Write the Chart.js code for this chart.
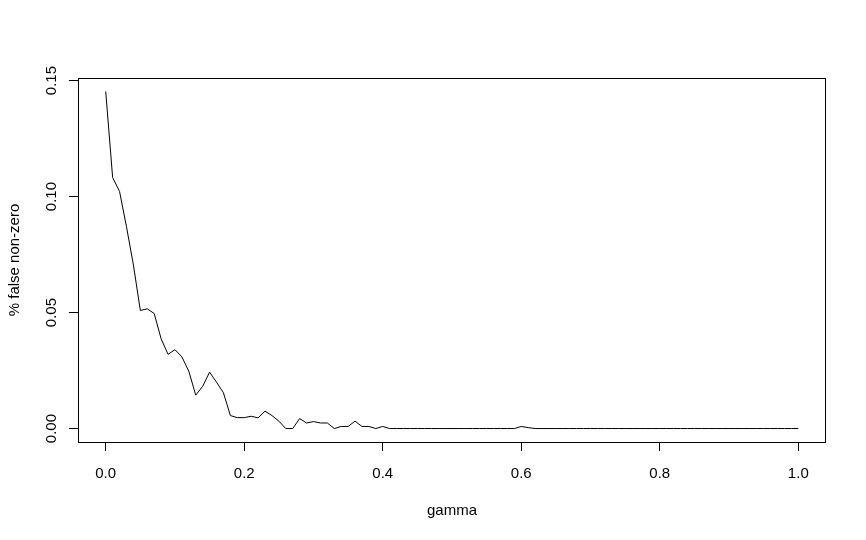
<!DOCTYPE html>
<html>
<head>
<meta charset="utf-8">
<title>% false non-zero vs gamma</title>
<script src="https://cdn.jsdelivr.net/npm/chart.js@4.4.1/dist/chart.umd.min.js"></script>
<style>
  html, body { margin: 0; padding: 0; background: #fff; }
  #grafico { display: block; }
</style>
</head>
<body>
<canvas id="grafico" width="866" height="540"></canvas>
<script>
// ======= Dados =======
const gamma = [
  0.00, 0.01, 0.02, 0.03, 0.04, 0.05, 0.06, 0.07, 0.08, 0.09,
  0.10, 0.11, 0.12, 0.13, 0.14, 0.15, 0.16, 0.17, 0.18, 0.19,
  0.20, 0.21, 0.22, 0.23, 0.24, 0.25, 0.26, 0.27, 0.28, 0.29,
  0.30, 0.31, 0.32, 0.33, 0.34, 0.35, 0.36, 0.37, 0.38, 0.39,
  0.40, 0.41, 0.42, 0.43, 0.44, 0.45, 0.46, 0.47, 0.48, 0.49,
  0.50, 0.51, 0.52, 0.53, 0.54, 0.55, 0.56, 0.57, 0.58, 0.59,
  0.60, 0.61, 0.62, 0.63, 0.64, 0.65, 0.66, 0.67, 0.68, 0.69,
  0.70, 0.71, 0.72, 0.73, 0.74, 0.75, 0.76, 0.77, 0.78, 0.79,
  0.80, 0.81, 0.82, 0.83, 0.84, 0.85, 0.86, 0.87, 0.88, 0.89,
  0.90, 0.91, 0.92, 0.93, 0.94, 0.95, 0.96, 0.97, 0.98, 0.99,
  1.00
];
const falsosNaoZero = [
  0.1453, 0.1082, 0.1022, 0.0870, 0.0705, 0.0509, 0.0516, 0.0496, 0.0387, 0.0320,
  0.0340, 0.0309, 0.0247, 0.0144, 0.0182, 0.0243, 0.0200, 0.0154, 0.0056, 0.0047,
  0.0047, 0.0053, 0.0046, 0.0075, 0.0056, 0.0032, 0.0000, 0.0000, 0.0043, 0.0024,
  0.0030, 0.0024, 0.0024, 0.0000, 0.0009, 0.0009, 0.0032, 0.0009, 0.0009, 0.0000,
  0.0009, 0.0000, 0.0000, 0.0000, 0.0000, 0.0000, 0.0000, 0.0000, 0.0000, 0.0000,
  0.0000, 0.0000, 0.0000, 0.0000, 0.0000, 0.0000, 0.0000, 0.0000, 0.0000, 0.0000,
  0.0009, 0.0004, 0.0000, 0.0000, 0.0000, 0.0000, 0.0000, 0.0000, 0.0000, 0.0000,
  0.0000, 0.0000, 0.0000, 0.0000, 0.0000, 0.0000, 0.0000, 0.0000, 0.0000, 0.0000,
  0.0000, 0.0000, 0.0000, 0.0000, 0.0000, 0.0000, 0.0000, 0.0000, 0.0000, 0.0000,
  0.0000, 0.0000, 0.0000, 0.0000, 0.0000, 0.0000, 0.0000, 0.0000, 0.0000, 0.0000,
  0.0000
];
const ticksX = [0, 0.2, 0.4, 0.6, 0.8, 1.0];
const rotulosX = ["0.0", "0.2", "0.4", "0.6", "0.8", "1.0"];
const ticksY = [0, 0.05, 0.10, 0.15];
const rotulosY = ["0.00", "0.05", "0.10", "0.15"];
const tituloX = "gamma";
const tituloY = "% false non-zero";

// ======= Estilo =======
const FONTE = '15px "Liberation Sans", Arial, sans-serif';

// ======= Plugin: caixa, rótulos e títulos (estilo R) =======
const estiloR = {
  id: "estiloR",
  afterDraw(chart) {
    const ctx = chart.ctx;
    const area = chart.chartArea;
    const sx = chart.scales.x;
    const sy = chart.scales.y;

    ctx.save();
    // caixa
    ctx.strokeStyle = "#000";
    ctx.lineWidth = 1;
    ctx.strokeRect(area.left + 0.5, area.top + 0.5, area.right - area.left - 1, area.bottom - area.top);

    ctx.fillStyle = "#000";
    ctx.font = FONTE;
    ctx.textBaseline = "alphabetic";

    // rótulos do eixo x
    ctx.textAlign = "center";
    sx.ticks.forEach((t, i) => {
      ctx.fillText(rotulosX[i], sx.getPixelForValue(t.value), 478);
    });
    // título x
    ctx.fillText(tituloX, (area.left + area.right) / 2, 515);

    // rótulos do eixo y (girados)
    sy.ticks.forEach((t, i) => {
      ctx.save();
      ctx.translate(56, sy.getPixelForValue(t.value));
      ctx.rotate(-Math.PI / 2);
      ctx.fillText(rotulosY[i], 0, 0);
      ctx.restore();
    });
    // título y
    ctx.save();
    ctx.translate(19, (area.top + area.bottom) / 2);
    ctx.rotate(-Math.PI / 2);
    ctx.fillText(tituloY, 0, 0);
    ctx.restore();

    ctx.restore();
  }
};

// ======= Gráfico =======
const pontos = gamma.map((g, i) => ({ x: g, y: falsosNaoZero[i] }));

new Chart(document.getElementById("grafico").getContext("2d"), {
  type: "line",
  data: {
    datasets: [{
      data: pontos,
      borderColor: "#000",
      borderWidth: 1,
      pointRadius: 0,
      tension: 0,
      fill: false
    }]
  },
  options: {
    responsive: false,
    animation: false,
    devicePixelRatio: 1,
    layout: { padding: { top: 78, right: 40, left: 0, bottom: 0 } },
    plugins: { legend: { display: false }, tooltip: { enabled: false } },
    scales: {
      x: {
        type: "linear",
        min: -0.04,
        max: 1.04,
        afterBuildTicks: s => { s.ticks = ticksX.map(v => ({ value: v })); },
        afterFit: s => { s.height = 98; },
        ticks: { display: false },
        grid: { display: true, drawOnChartArea: false, drawTicks: true, tickLength: 9, color: "#000", lineWidth: 1 },
        border: { display: false }
      },
      y: {
        type: "linear",
        min: -0.0058,
        max: 0.1511,
        afterBuildTicks: s => { s.ticks = ticksY.map(v => ({ value: v })); },
        afterFit: s => { s.width = 78; },
        ticks: { display: false },
        grid: { display: true, drawOnChartArea: false, drawTicks: true, tickLength: 9, color: "#000", lineWidth: 1 },
        border: { display: false }
      }
    }
  },
  plugins: [estiloR]
});
</script>
</body>
</html>
